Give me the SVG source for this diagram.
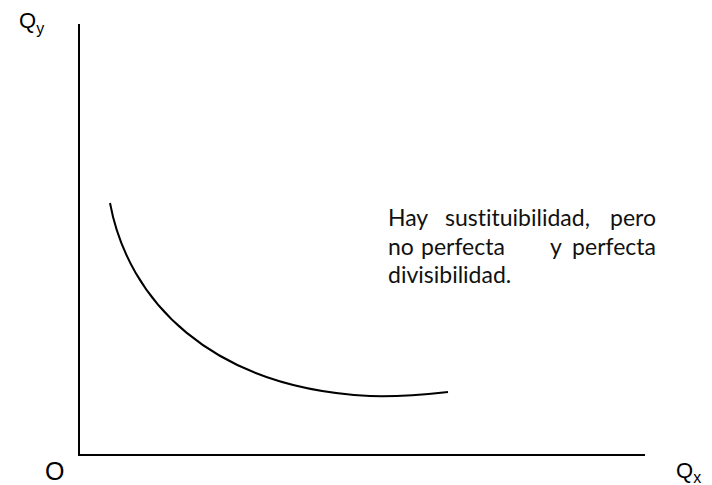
<svg xmlns="http://www.w3.org/2000/svg" width="712" height="485" viewBox="0 0 712 485">
<style>
.ax{fill:none;stroke:#000;stroke-width:2}
.cv{fill:none;stroke:#000;stroke-width:2}
.lbl{font-family:"Liberation Sans",Arial,sans-serif;fill:#000}
.note{font-family:Lato,"Open Sans",sans-serif;font-size:23px;fill:#111;font-variant-ligatures:none}
</style>
<rect width="712" height="485" fill="#fff"/>
<g id="connectors">
<path class="ax" d="M79,24 V455 H645"/>
<path id="curve" class="cv" d="M110,203 C128,300 210,388 370,396 C405,397 430,394 448,392"/>
</g>
<g id="label-qy"><text class="lbl" x="19" y="28" font-size="22">Q<tspan font-size="16" dy="6">y</tspan></text></g>
<g id="label-o"><text class="lbl" x="45" y="480" font-size="25">O</text></g>
<g id="label-qx"><text class="lbl" x="676" y="478" font-size="22">Q<tspan font-size="16" dy="5">x</tspan></text></g>
<g id="note">
<text class="note" x="388" y="226">Hay</text>
<text class="note" x="445" y="226">sustituibilidad,</text>
<text class="note" x="656" y="226" text-anchor="end">pero</text>
<text class="note" x="388" y="255">no</text>
<text class="note" x="421" y="255">perfecta</text>
<text class="note" x="550" y="255">y</text>
<text class="note" x="656" y="255" text-anchor="end">perfecta</text>
<text class="note" x="388" y="283">divisibilidad.</text>
</g>
</svg>
